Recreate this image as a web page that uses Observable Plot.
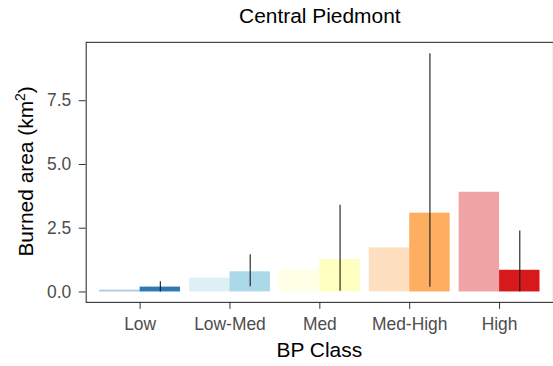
<!DOCTYPE html>
<html><head><meta charset="utf-8">
<script src="https://cdn.jsdelivr.net/npm/d3@7"></script>
<script src="https://cdn.jsdelivr.net/npm/@observablehq/plot@0.6"></script>
<style>html,body{margin:0;padding:0;overflow:hidden;background:#fff;}</style>
</head><body><div id="chart"></div>
<script>
const classes = ["Low", "Low-Med", "Med", "Med-High", "High"];
const expected = [0.07, 0.54, 0.86, 1.73, 3.91];
const observed = [0.19, 0.79, 1.27, 3.09, 0.85];
const errLow = [0.0, 0.2, 0.03, 0.18, 0.0];
const errHigh = [0.40, 1.46, 3.40, 9.34, 2.39];
const colors = ["#2c7bb6", "#abd9e9", "#ffffbf", "#fdae61", "#d7191c"];
const yTicks = [0, 2.5, 5, 7.5];
const title = "Central Piedmont";
const xLabel = "BP Class";
const yLabel = "Burned area (km";

const half = 0.45;
const expRows = classes.map((c, i) => ({cls: c, x1: i - half, x2: i, value: expected[i]}));
const obsRows = classes.map((c, i) => ({cls: c, x1: i, x2: i + half, xm: i + half / 2, value: observed[i], lo: errLow[i], hi: errHigh[i]}));

const plot = Plot.plot({
  width: 555,
  height: 366,
  marginLeft: 86,
  marginRight: 0,
  marginTop: 42,
  marginBottom: 63,
  style: {fontFamily: "Liberation Sans, Arial, sans-serif", fontSize: "17.5px", color: "#4d4d4d", background: "#fff"},
  x: {domain: [-0.6, 4.6]},
  y: {domain: [-0.41, 9.79]},
  color: {type: "ordinal", domain: classes, range: colors},
  marks: [
    Plot.rectY(expRows, {x1: "x1", x2: "x2", y1: 0, y2: "value", fill: "cls", fillOpacity: 0.4}),
    Plot.rectY(obsRows, {x1: "x1", x2: "x2", y1: 0, y2: "value", fill: "cls"}),
    Plot.ruleX(obsRows, {x: "xm", y1: "lo", y2: "hi", stroke: "#1a1a1a", strokeWidth: 1.1}),
    Plot.frame({stroke: "#333", strokeWidth: 1.1}),
    Plot.axisX({ticks: d3.range(classes.length), tickFormat: i => classes[i], tickSize: 7, tickPadding: 8, stroke: "#333", label: null}),
    Plot.axisY({ticks: yTicks, tickFormat: d => d.toFixed(1), tickSize: 7, tickPadding: 8, stroke: "#333", label: null})
  ]
});

const svg = d3.select(plot);
svg.append("text")
  .attr("x", 321).attr("y", 23)
  .attr("text-anchor", "middle")
  .style("font-size", "21px").style("fill", "#000")
  .text(title);
svg.append("text")
  .attr("x", 320.5).attr("y", 358)
  .attr("text-anchor", "middle")
  .style("font-size", "21px").style("fill", "#000")
  .text(xLabel);
const yl = svg.append("text")
  .attr("transform", "translate(33,172) rotate(-90)")
  .attr("text-anchor", "middle")
  .style("font-size", "21px").style("fill", "#000");
yl.append("tspan").text(yLabel);
yl.append("tspan").attr("dy", -8).style("font-size", "14px").text("2");
yl.append("tspan").attr("dy", 8).text(")");

document.getElementById("chart").appendChild(plot);
</script>
</body></html>
